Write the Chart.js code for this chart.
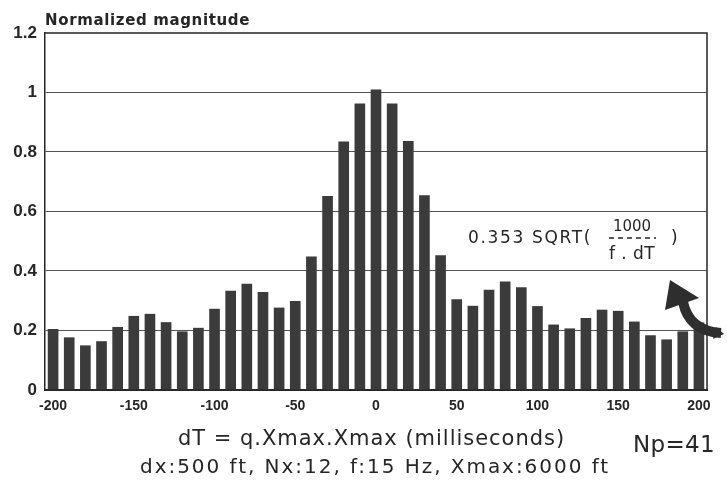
<!DOCTYPE html>
<html>
<head>
<meta charset="utf-8">
<script src="https://cdn.jsdelivr.net/npm/chart.js@4"></script>
<style>
  html, body { margin: 0; padding: 0; background: #fff; }
  #wrap { width: 727px; height: 491px; position: relative; }
</style>
</head>
<body>
<div id="wrap"><canvas id="magChart"></canvas></div>
<script>
// dT in milliseconds (Np = 41 points)
const dtValues = [-200, -190, -180, -170, -160, -150, -140, -130, -120, -110,
                  -100, -90, -80, -70, -60, -50, -40, -30, -20, -10,
                  0, 10, 20, 30, 40, 50, 60, 70, 80, 90,
                  100, 110, 120, 130, 140, 150, 160, 170, 180, 190, 200];
const magnitudes = [0.205, 0.177, 0.150, 0.164, 0.212, 0.249, 0.256, 0.228, 0.197, 0.209,
                    0.273, 0.334, 0.357, 0.329, 0.277, 0.299, 0.449, 0.652, 0.835, 0.963,
                    1.010, 0.963, 0.837, 0.655, 0.453, 0.305, 0.283, 0.337, 0.365, 0.345,
                    0.282, 0.220, 0.207, 0.242, 0.270, 0.266, 0.230, 0.184, 0.170, 0.197, 0.227];
const xTickLabels = ['-200', '-150', '-100', '-50', '0', '50', '100', '150', '200'];

const ink = '#262626';
const barColor = '#3b3b3b';
const sans = '"DejaVu Sans", "Liberation Sans", Arial, sans-serif';

// draws text, adding letter spacing so it fills a given width
function spacedText(ctx, text, x, y, width, font, align) {
    ctx.font = font;
    ctx.letterSpacing = '0px';
    const w = ctx.measureText(text).width;
    const sp = Math.max(0, (width - w) / text.length);
    ctx.letterSpacing = sp.toFixed(2) + 'px';
    ctx.textAlign = align || 'left';
    ctx.fillText(text, x, y);
    ctx.letterSpacing = '0px';
}

const decorations = {
    id: 'decorations',
    afterDraw(chart) {
        const { ctx, chartArea: a } = chart;
        ctx.save();
        ctx.fillStyle = ink;
        ctx.strokeStyle = ink;
        ctx.textBaseline = 'alphabetic';

        // frame: top and right
        ctx.lineWidth = 1.5;
        ctx.beginPath();
        ctx.moveTo(a.left, a.top);
        ctx.lineTo(a.right, a.top);
        ctx.lineTo(a.right, a.bottom);
        ctx.stroke();

        // y axis title
        spacedText(ctx, 'Normalized magnitude', a.left, 25, 205, 'bold 15px ' + sans);

        // x axis titles
        spacedText(ctx, 'dT = q.Xmax.Xmax (milliseconds)', 178, 445, 387, '21px ' + sans);
        spacedText(ctx, 'dx:500 ft, Nx:12, f:15 Hz, Xmax:6000 ft', 140, 473, 470, '20px ' + sans);
        spacedText(ctx, 'Np=41', 633, 452, 82, '23px ' + sans);

        // formula annotation
        spacedText(ctx, '0.353 SQRT(', a.right - 239, 243, 124, '17px ' + sans);
        ctx.font = '15px ' + sans;
        ctx.textAlign = 'center';
        ctx.fillText('1000', a.right - 75, 231);
        spacedText(ctx, 'f . dT', a.right - 75, 259, 46, '17px ' + sans, 'center');
        ctx.lineWidth = 1.4;
        ctx.setLineDash([5, 4]);
        ctx.beginPath();
        ctx.moveTo(a.right - 98, 238);
        ctx.lineTo(a.right - 51, 238);
        ctx.stroke();
        ctx.setLineDash([]);
        ctx.font = '17px ' + sans;
        ctx.textAlign = 'left';
        ctx.fillText(')', a.right - 36, 243);

        // curved arrow
        ctx.fillStyle = '#2e2e2e';
        ctx.strokeStyle = '#2e2e2e';
        ctx.lineWidth = 10;
        ctx.lineCap = 'butt';
        ctx.beginPath();
        ctx.moveTo(a.right + 14, 333);
        ctx.quadraticCurveTo(a.right - 18, 331, a.right - 24, 302);
        ctx.stroke();
        ctx.beginPath();
        ctx.moveTo(a.right + 9, 327);
        ctx.lineTo(a.right + 17, 334);
        ctx.lineTo(a.right + 6, 339);
        ctx.closePath();
        ctx.fill();
        ctx.beginPath();
        ctx.moveTo(a.right - 37, 280);
        ctx.lineTo(a.right - 42, 310);
        ctx.lineTo(a.right - 8, 298);
        ctx.closePath();
        ctx.fill();
        ctx.restore();
    }
};

new Chart(document.getElementById('magChart'), {
    type: 'bar',
    data: {
        labels: dtValues.map(String),
        datasets: [{
            data: magnitudes,
            backgroundColor: barColor,
            borderWidth: 0,
            barPercentage: 0.66,
            categoryPercentage: 1.0
        }]
    },
    options: {
        responsive: true,
        maintainAspectRatio: false,
        animation: false,
        layout: { padding: { top: 33, right: 20, left: 0, bottom: 0 } },
        plugins: {
            legend: { display: false },
            tooltip: { enabled: false }
        },
        scales: {
            x: {
                afterFit(scale) { scale.height = 101; },
                grid: { display: false, drawTicks: false },
                border: { display: true, color: ink, width: 2 },
                ticks: {
                    autoSkip: false,
                    maxRotation: 0,
                    padding: 8,
                    color: ink,
                    font: { family: '"Liberation Sans", Arial, sans-serif', size: 14, weight: 'bold' },
                    callback(value) {
                        const lab = this.getLabelForValue(value);
                        return xTickLabels.includes(lab) ? lab : '';
                    }
                }
            },
            y: {
                min: 0,
                max: 1.2,
                afterFit(scale) { scale.width = 45; },
                border: { display: true, color: ink, width: 1.5 },
                grid: {
                    drawTicks: false,
                    color: ctx => (ctx.tick.value > 0.01 && ctx.tick.value < 1.19) ? '#555' : 'rgba(0,0,0,0)',
                    lineWidth: 1.1
                },
                ticks: {
                    stepSize: 0.2,
                    padding: 8,
                    color: ink,
                    font: { family: '"Liberation Sans", Arial, sans-serif', size: 17, weight: 'bold' },
                    callback: value => String(Math.round(value * 10) / 10)
                }
            }
        }
    },
    plugins: [decorations]
});
</script>
</body>
</html>
